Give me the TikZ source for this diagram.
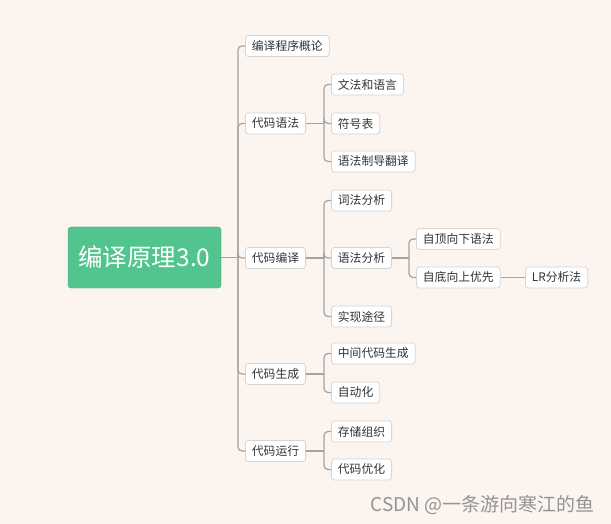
\documentclass[tikz,border=0pt]{standalone}
\usepackage{fontspec}
\setmainfont{Noto Sans CJK SC}
\usetikzlibrary{calc}
\definecolor{bgc}{HTML}{FCF4EF}
\definecolor{rootg}{HTML}{52C48D}
\definecolor{linec}{HTML}{A8A29E}
\definecolor{boxline}{HTML}{D8D4D0}
\definecolor{txt}{HTML}{333333}
\begin{document}
\begin{tikzpicture}[x=1pt,y=-1pt,
  leaf/.style={draw=boxline,line width=0.8pt,fill=white,rounded corners=3pt,anchor=west,
    minimum height=21pt,inner xsep=6.5pt,inner ysep=0pt,text=txt,font=\fontsize{11.8}{13}\selectfont},
  rootbox/.style={fill=rootg,draw=rootg!85!black,line width=0.4pt,rounded corners=3pt,text=white,
    minimum width=153pt,minimum height=61pt,font=\fontsize{24.5}{27}\selectfont},
  conn/.style={draw=linec,line width=1.2pt,rounded corners=4pt}]
\fill[bgc] (0,0) rectangle (611,524);
\useasboundingbox (0,0) rectangle (611,524);

\node[rootbox] (root) at (144.5,257.5) {编译原理3.0};

\node[leaf] (a1) at (245,46) {编译程序概论};
\node[leaf] (a2) at (245,123.5) {代码语法};
\node[leaf] (a3) at (245,258) {代码编译};
\node[leaf] (a4) at (245,374) {代码生成};
\node[leaf] (a5) at (245,451) {代码运行};

\node[leaf] (b1) at (331,84.5) {文法和语言};
\node[leaf] (b2) at (331,123.5) {符号表};
\node[leaf] (b3) at (331,161.5) {语法制导翻译};

\node[leaf] (c1) at (331,200.5) {词法分析};
\node[leaf] (c2) at (331,258) {语法分析};
\node[leaf] (c3) at (331,316.5) {实现途径};

\node[leaf] (d1) at (416,239) {自顶向下语法};
\node[leaf] (d2) at (416,277.5) {自底向上优先};
\node[leaf] (e1) at (525,277.5) {LR分析法};

\node[leaf] (f1) at (331,353.5) {中间代码生成};
\node[leaf] (f2) at (331,392.5) {自动化};
\node[leaf] (g1) at (331,431.5) {存储组织};
\node[leaf] (g2) at (331,469.5) {代码优化};

\coordinate (t0) at (238,257.5);
\coordinate (t1) at (324,123.5);
\coordinate (t2) at (324,258);
\coordinate (t3) at (409,258);
\coordinate (t4) at (324,374);
\coordinate (t5) at (324,451);

\draw[conn] (root.east) -- (t0);
\foreach \c in {a1,a2,a3,a4,a5}{\draw[conn] (t0) |- (\c.west);}
\draw[conn] (a2.east) -- (t1);
\foreach \c in {b1,b2,b3}{\draw[conn] (t1) |- (\c.west);}
\draw[conn] (a3.east) -- (t2);
\foreach \c in {c1,c2,c3}{\draw[conn] (t2) |- (\c.west);}
\draw[conn] (c2.east) -- (t3);
\foreach \c in {d1,d2}{\draw[conn] (t3) |- (\c.west);}
\draw[conn] (d2.east) -- (e1.west);
\draw[conn] (a4.east) -- (t4);
\foreach \c in {f1,f2}{\draw[conn] (t4) |- (\c.west);}
\draw[conn] (a5.east) -- (t5);
\foreach \c in {g1,g2}{\draw[conn] (t5) |- (\c.west);}

\node[anchor=east,text=black!42,font=\fontsize{19}{21}\selectfont] (wm) at (598,505) {CSDN @一条游向寒江的鱼};
\end{tikzpicture}
\end{document}
